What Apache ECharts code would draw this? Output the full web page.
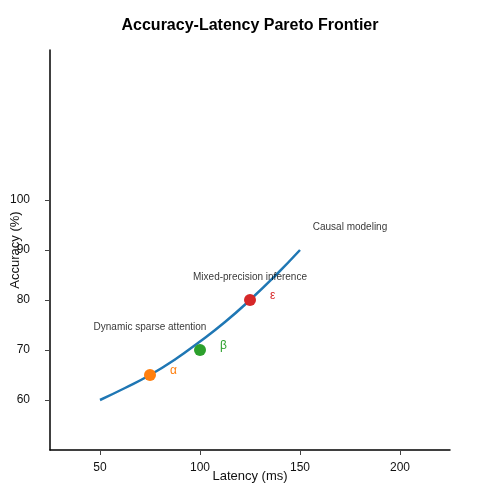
<!DOCTYPE html>
<html>
<head>
<meta charset="utf-8">
<script src="https://cdn.jsdelivr.net/npm/echarts@6/dist/echarts.min.js"></script>
<style>html,body{margin:0;padding:0;background:#fff}#c{width:500px;height:500px}</style>
</head>
<body>
<div id="c"></div>
<script>
// Pareto frontier curve (latency ms, accuracy %)
const frontierLatency = [50, 62.5, 75, 87.5, 100, 112.5, 125, 137.5, 150];
const frontierAccuracy = [60, 62.4, 65, 68.1, 71.7, 75.6, 80, 84.8, 90];

// Methods
const methodSymbols = ['α', 'β', 'ε'];
const methodLatency = [75, 100, 125];
const methodAccuracy = [65, 70, 80];
const methodColors = ['#ff7f0e', '#2ca02c', '#d62728'];

// Annotations
const noteTexts = ['Dynamic sparse attention', 'Mixed-precision inference', 'Causal modeling'];
const noteLatency = [75, 125, 175];
const noteAccuracy = [75, 85, 95];

// Tick labels
const xTicks = [50, 100, 150, 200];
const yTicks = [60, 70, 80, 90, 100];

const FONT = 'Liberation Sans, Arial, sans-serif';

const series = [{
  type: 'line',
  data: frontierLatency.map((x, i) => [x, frontierAccuracy[i]]),
  smooth: true,
  showSymbol: false,
  lineStyle: { color: '#1f77b4', width: 2.5 },
  silent: true,
  z: 2
}];

methodSymbols.forEach((s, i) => {
  series.push({
    type: 'scatter',
    data: [[methodLatency[i], methodAccuracy[i]]],
    symbolSize: 12,
    itemStyle: { color: methodColors[i], opacity: 1 },
    label: {
      show: true,
      formatter: s,
      position: 'right',
      distance: 14,
      offset: [0, -4],
      color: methodColors[i],
      fontSize: 12,
      fontFamily: FONT
    },
    z: 3
  });
});

series.push({
  type: 'scatter',
  data: noteTexts.map((t, i) => ({ value: [noteLatency[i], noteAccuracy[i]], name: t })),
  symbolSize: 1,
  itemStyle: { color: 'rgba(0,0,0,0)' },
  label: {
    show: true,
    position: 'inside',
    offset: [0, 2],
    formatter: p => p.name,
    color: '#000',
    textBorderWidth: 0,
    fontSize: 10,
    fontFamily: FONT
  },
  z: 4
});

const chart = echarts.init(document.getElementById('c'), null, { renderer: 'canvas' });
chart.setOption({
  animation: false,
  backgroundColor: '#fff',
  title: {
    text: 'Accuracy-Latency Pareto Frontier',
    left: 'center',
    top: 13,
    textStyle: { fontSize: 16, fontWeight: 'bold', color: '#000', fontFamily: FONT }
  },
  grid: { left: 50, right: 50, top: 50, bottom: 50, containLabel: false, outerBoundsMode: 'none' },
  xAxis: {
    type: 'value',
    min: 25,
    max: 225,
    name: 'Latency (ms)',
    nameLocation: 'middle',
    nameGap: 20,
    nameMoveOverlap: false,
    nameTextStyle: { fontSize: 13, color: '#111', fontFamily: FONT },
    axisLine: { show: true, onZero: false, lineStyle: { color: '#000', width: 1.5 } },
    axisTick: { show: true, length: 5, customValues: xTicks, lineStyle: { color: '#444', width: 1 } },
    axisLabel: { customValues: xTicks, margin: 12, fontSize: 12, color: '#111', fontFamily: FONT },
    splitLine: { show: false }
  },
  yAxis: {
    type: 'value',
    min: 50,
    max: 130,
    name: 'Accuracy (%)',
    nameLocation: 'middle',
    nameGap: 28,
    nameMoveOverlap: false,
    nameTextStyle: { fontSize: 13, color: '#111', fontFamily: FONT },
    axisLine: { show: true, onZero: false, lineStyle: { color: '#000', width: 1.5 } },
    axisTick: { show: true, length: 5, customValues: yTicks, lineStyle: { color: '#444', width: 1 } },
    axisLabel: { customValues: yTicks, margin: 20, fontSize: 12, color: '#111', fontFamily: FONT },
    splitLine: { show: false }
  },
  series: series
});
</script>
</body>
</html>
